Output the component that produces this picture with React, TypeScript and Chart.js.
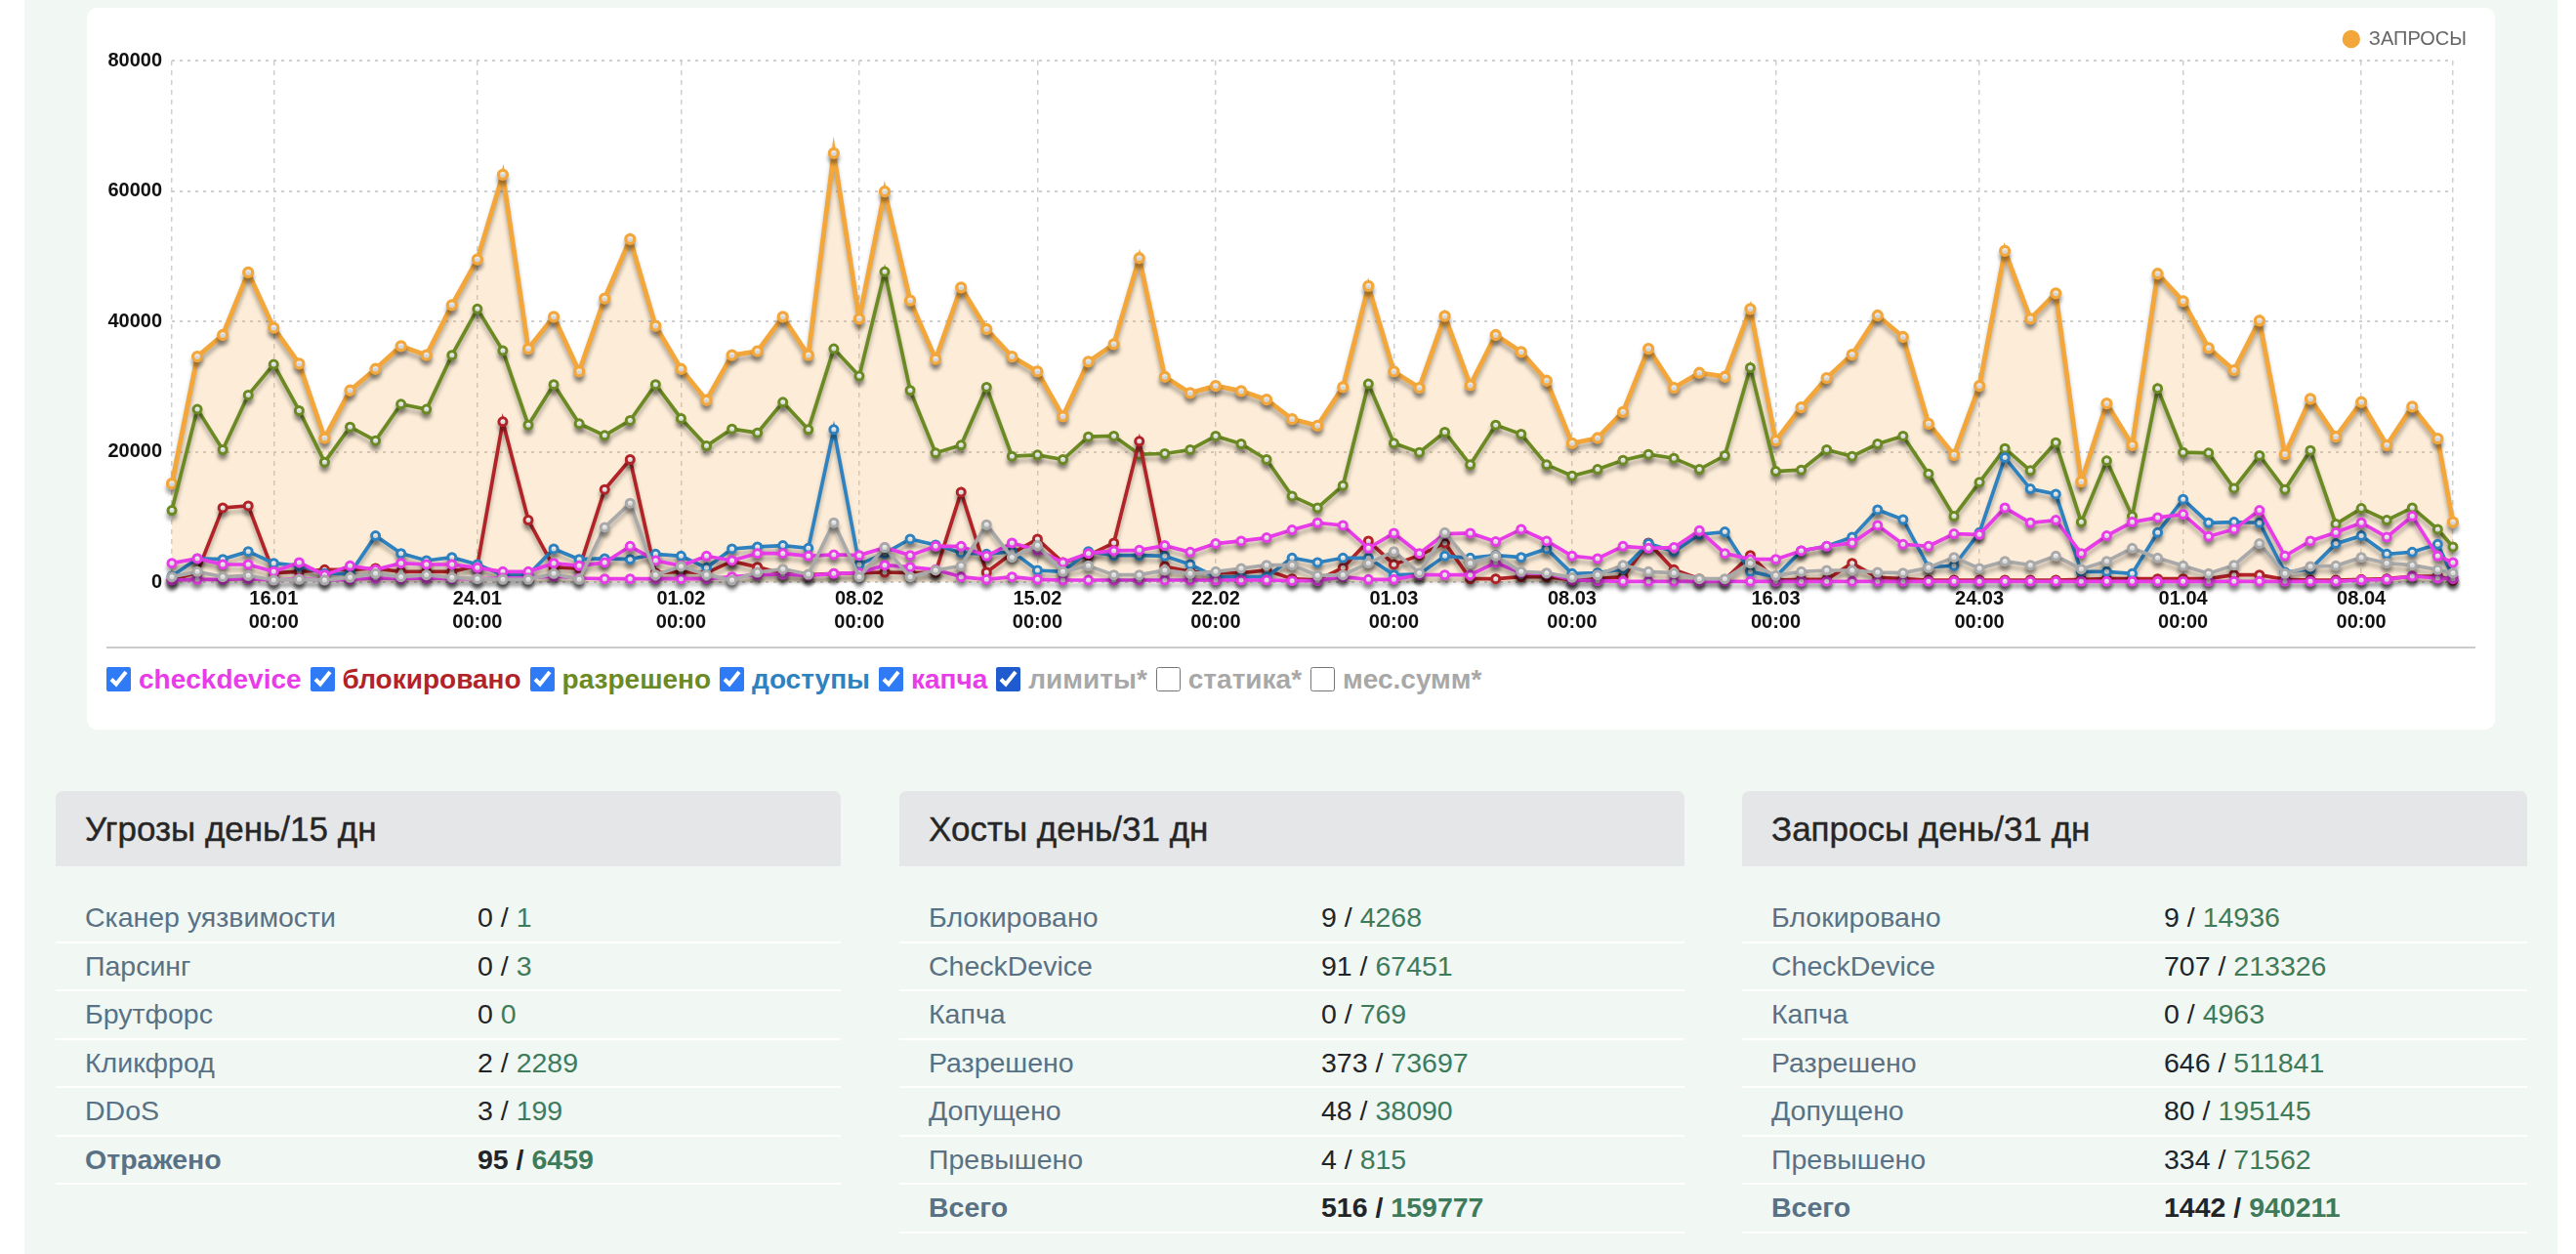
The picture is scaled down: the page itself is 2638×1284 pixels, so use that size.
import React, { useEffect, useRef } from 'react';
import { Chart, registerables } from 'chart.js';

Chart.register(...registerables);

const FONT = '"Liberation Sans", Arial, Helvetica, sans-serif';

// x positions: day offsets from 12.01 (last point is today, partial day)
const DAY_INDEX = Array.from({ length: 90 }, (_, i) => i);
const LAST_POINT_DAY = 89.6;
const X_POS = [...DAY_INDEX, LAST_POINT_DAY];

const TICK_DAYS = [0, 4, 12, 20, 27, 34, 41, 48, 55, 63, 71, 79, 86, 89.6];
const TICK_DATES = ['', '16.01', '24.01', '01.02', '08.02', '15.02', '22.02', '01.03', '08.03', '16.03', '24.03', '01.04', '08.04', ''];
const TICK_TIME = '00:00';

const Y_MAX = 80000;
const Y_STEP = 20000;

const ZAPROSY = [
  15100, 34600, 37900, 47500, 39000, 33500, 22100, 29400, 32700, 36200, 34800, 42500, 49500, 62500, 35800, 40700, 32300, 43500, 52600, 39300, 32700, 27900, 34800,
  35400, 40700, 34800, 65800, 40400, 59900, 43200, 34200, 45200, 38800, 34600, 32300, 25400, 33800, 36500, 49700, 31500, 29000, 30100, 29300, 28000, 25000, 24000,
  29900, 45400, 32300, 29800, 40800, 30200, 37900, 35300, 30900, 21300, 22100, 26100, 35800, 29800, 32100, 31500, 41900, 21700, 26800, 31300, 34900, 40900, 37600,
  24300, 19500, 30100, 50800, 40400, 44300, 15400, 27400, 21000, 47300, 43100, 35900, 32500, 40100, 19600, 28100, 22300, 27600, 21000, 26900, 22000, 9200,
];

const RAZRESHENO = [
  11000, 26500, 20300, 28700, 33400, 26300, 18400, 23800, 21700, 27300, 26500, 34800, 41900, 35500, 24100, 30300, 24300, 22500, 24800, 30300, 25100, 20900, 23500,
  22900, 27600, 23400, 35800, 31600, 47600, 29400, 19800, 21000, 29900, 19300, 19500, 18800, 22300, 22400, 19600, 19700, 20300, 22400, 21200, 18800, 13200, 11400,
  14800, 30400, 21300, 19900, 23000, 18000, 24100, 22700, 18000, 16300, 17300, 18700, 19600, 19000, 17300, 19400, 32900, 17000, 17200, 20300, 19300, 21200, 22400,
  16600, 10100, 15300, 20500, 17100, 21400, 9200, 18600, 10100, 29700, 19900, 19800, 14400, 19400, 14200, 20200, 8900, 11300, 9500, 11400, 8100, 5400,
];

const BLOKIROVANO = [
  300, 1500, 11400, 11700, 1400, 1600, 1900, 1900, 2100, 1600, 1600, 1600, 2500, 24600, 9500, 2300, 2100, 14200, 18800, 1400, 1600, 1400, 3200,
  2300, 1300, 1100, 1300, 1400, 1500, 1400, 1500, 13800, 1500, 4400, 6600, 3000, 4100, 6000, 21600, 2400, 1600, 1400, 1400, 1800, 500, 300,
  2200, 6300, 2700, 4100, 6000, 500, 500, 800, 800, 300, 500, 800, 6000, 1900, 500, 400, 4100, 300, 400, 400, 2900, 700, 500,
  300, 300, 300, 300, 300, 300, 400, 500, 500, 500, 500, 500, 1100, 1100, 400, 300, 300, 400, 500, 900, 900, 300,
];

const DOSTUPY = [
  900, 3600, 3500, 4700, 2900, 2500, 1300, 1300, 7100, 4400, 3300, 3800, 2700, 1100, 1100, 5100, 3500, 3600, 3500, 4300, 4000, 2200, 5100,
  5400, 5600, 5200, 23400, 2700, 4400, 6600, 5700, 4500, 4300, 4700, 1800, 1600, 4700, 4100, 4100, 4000, 2700, 800, 800, 800, 3700, 3000,
  3700, 3700, 1100, 1200, 4000, 3700, 4100, 3800, 5100, 1300, 1400, 2000, 5900, 4700, 7300, 7700, 1600, 800, 4800, 5500, 6900, 11100, 9600,
  2300, 2500, 7600, 19100, 14300, 13500, 1600, 1600, 1300, 7600, 12700, 9100, 9200, 9100, 1500, 2000, 5900, 7100, 4300, 4600, 5800, 800,
];

const CHECKDEVICE = [
  2900, 3600, 2700, 2700, 1600, 3000, 1100, 2500, 1900, 2900, 2700, 2700, 2200, 1600, 1600, 2900, 2500, 3000, 5500, 3300, 2500, 4000, 3300,
  4400, 4400, 4000, 4200, 4100, 5300, 4100, 5500, 5500, 4000, 6000, 4900, 3000, 4400, 4800, 4900, 5600, 4600, 5900, 6300, 6800, 8000, 9100,
  8700, 5200, 7500, 4400, 7400, 7500, 6200, 8100, 6300, 4000, 3600, 5500, 5200, 5300, 7900, 4400, 3500, 3500, 4800, 5500, 6000, 8700, 5800,
  5500, 7400, 7300, 11400, 9100, 9500, 4400, 7100, 9200, 9900, 10400, 7000, 8100, 11000, 4000, 6300, 7600, 9100, 6900, 10100, 4000, 3000,
];

const KAPCHA = [
  300, 400, 400, 500, 300, 500, 300, 400, 600, 500, 600, 500, 500, 600, 600, 900, 600, 500, 500, 500, 500, 500, 800,
  1100, 1200, 1000, 1300, 1400, 2600, 2300, 1900, 800, 400, 800, 400, 300, 300, 300, 300, 300, 300, 300, 300, 300, 200, 200,
  800, 400, 400, 1100, 1100, 1100, 3000, 1400, 1300, 300, 200, 100, 100, 100, 100, 100, 100, 100, 100, 100, 100, 100, 100,
  100, 100, 100, 100, 100, 100, 100, 100, 100, 100, 100, 100, 100, 100, 100, 100, 100, 300, 400, 900, 600, 500,
];

const LIMITY = [
  800, 1600, 800, 1000, 300, 400, 300, 700, 1300, 800, 1100, 700, 500, 400, 400, 1300, 400, 8400, 12100, 1100, 2400, 1100, 300,
  1500, 2000, 1200, 9100, 800, 5300, 800, 1800, 2500, 8800, 3800, 5600, 1600, 2500, 1100, 1100, 1800, 1300, 1600, 2100, 2600, 2600, 1000,
  1100, 2900, 4700, 1400, 7600, 2900, 4000, 1600, 1400, 700, 1100, 2600, 1600, 1400, 500, 500, 2900, 1000, 1600, 1800, 1800, 1500, 1400,
  2200, 3800, 2100, 3200, 2600, 4000, 2000, 3200, 5200, 3700, 2500, 1300, 2600, 5900, 1300, 2400, 2500, 3800, 2900, 2600, 1900, 1400,
];

const ORANGE = '#f3a73b';
const GREEN = '#6b8a23';
const RED = '#b22328';
const BLUE = '#2e82c0';
const MAGENTA = '#e83ce8';
const GRAY = '#a9a9a9';
const LEGEND_GRAY = '#a8a8a8';

const LEGEND_ITEMS = [
  { label: 'checkdevice', color: MAGENTA, checked: true },
  { label: 'блокировано', color: RED, checked: true },
  { label: 'разрешено', color: GREEN, checked: true },
  { label: 'доступы', color: BLUE, checked: true },
  { label: 'капча', color: MAGENTA, checked: true },
  { label: 'лимиты*', color: LEGEND_GRAY, checked: true, dark: true },
  { label: 'статика*', color: LEGEND_GRAY, checked: false },
  { label: 'мес.сумм*', color: LEGEND_GRAY, checked: false },
];

const THREAT_LABELS = ['Сканер уязвимости', 'Парсинг', 'Брутфорс', 'Кликфрод', 'DDoS', 'Отражено'];
const THREAT_DAY = ['0', '0', '0', '2', '3', '95'];
const THREAT_SEP = [' / ', ' / ', ' ', ' / ', ' / ', ' / '];
const THREAT_TOTAL = ['1', '3', '0', '2289', '199', '6459'];

const HOST_LABELS = ['Блокировано', 'CheckDevice', 'Капча', 'Разрешено', 'Допущено', 'Превышено', 'Всего'];
const HOST_DAY = ['9', '91', '0', '373', '48', '4', '516'];
const HOST_TOTAL = ['4268', '67451', '769', '73697', '38090', '815', '159777'];

const REQ_LABELS = ['Блокировано', 'CheckDevice', 'Капча', 'Разрешено', 'Допущено', 'Превышено', 'Всего'];
const REQ_DAY = ['9', '707', '0', '646', '80', '334', '1442'];
const REQ_TOTAL = ['14936', '213326', '4963', '511841', '195145', '71562', '940211'];

const shadowPlugin = {
  id: 'lineShadow',
  beforeDatasetDraw(chart: any) {
    const ctx = chart.ctx;
    ctx.save();
    ctx.shadowColor = 'rgba(0,0,0,0.3)';
    ctx.shadowBlur = 4;
    ctx.shadowOffsetX = 0;
    ctx.shadowOffsetY = 5;
  },
  afterDatasetDraw(chart: any) {
    chart.ctx.restore();
  },
};

const legendHeightPlugin = {
  id: 'legendHeight',
  afterInit(chart: any) {
    const lg = chart.legend;
    if (lg && !lg.__patched) {
      const f = lg.fit.bind(lg);
      lg.fit = () => {
        f();
        lg.height = 54;
      };
      lg.__patched = true;
    }
  },
};

function toPoints(values: number[]) {
  return values.map((v, i) => ({ x: X_POS[i], y: v }));
}

function makeSet(label: string, values: number[], color: string, order: number, extra: any = {}) {
  return {
    label,
    data: toPoints(values),
    borderColor: color,
    backgroundColor: color,
    pointBackgroundColor: '#ffffff',
    pointBorderColor: color,
    pointRadius: 4,
    pointBorderWidth: 3,
    borderWidth: 3.7,
    tension: 0,
    fill: false,
    order,
    clip: false,
    ...extra,
  };
}

function ChartCanvas() {
  const ref = useRef<HTMLCanvasElement | null>(null);
  useEffect(() => {
    if (!ref.current) return;
    const tickFont = { family: FONT, size: 20, weight: 'bold' as const, lineHeight: 1.2 };
    const chart = new Chart(ref.current, {
      type: 'line',
      data: {
        datasets: [
          makeSet('ЗАПРОСЫ', ZAPROSY, ORANGE, 10, {
            fill: 'origin',
            backgroundColor: 'rgba(243,167,59,0.2)',
            borderWidth: 4.8,
            pointRadius: 4.5,
            pointBorderWidth: 3.3,
          }),
          makeSet('разрешено', RAZRESHENO, GREEN, 7),
          makeSet('блокировано', BLOKIROVANO, RED, 6),
          makeSet('доступы', DOSTUPY, BLUE, 5),
          makeSet('checkdevice', CHECKDEVICE, MAGENTA, 4),
          makeSet('капча', KAPCHA, MAGENTA, 3),
          makeSet('лимиты', LIMITY, GRAY, 2),
        ],
      },
      options: {
        responsive: false,
        animation: false,
        events: [],
        layout: { padding: { left: 0, right: 7, top: 0, bottom: 0 } },
        plugins: {
          tooltip: { enabled: false },
          legend: {
            display: true,
            position: 'top',
            align: 'end',
            labels: {
              usePointStyle: true,
              pointStyle: 'circle',
              boxWidth: 16,
              boxHeight: 13,
              padding: 22,
              color: '#666',
              font: { family: FONT, size: 20 },
              generateLabels: (c: any) =>
                (Chart.defaults.plugins.legend.labels.generateLabels as any)(c)
                  .filter((l: any) => l.datasetIndex === 0)
                  .map((l: any) => ({ ...l, fillStyle: ORANGE, strokeStyle: ORANGE, lineWidth: 0, pointStyle: 'circle' })),
            },
          },
        },
        scales: {
          x: {
            type: 'linear',
            min: 0,
            max: LAST_POINT_DAY,
            afterBuildTicks: (scale: any) => {
              scale.ticks = TICK_DAYS.map((v) => ({ value: v }));
            },
            afterFit: (scale: any) => {
              scale.height = 62;
            },
            ticks: {
              autoSkip: false,
              maxRotation: 0,
              minRotation: 0,
              padding: 5,
              color: '#111',
              font: tickFont,
              callback: (_v: any, i: number) => (TICK_DATES[i] ? [TICK_DATES[i], TICK_TIME] : ''),
            },
            grid: { color: '#cfcfcf', lineWidth: 1.5, drawTicks: false },
            border: { display: false, dash: [5, 5] },
          },
          y: {
            min: 0,
            max: Y_MAX,
            afterFit: (scale: any) => {
              scale.width = 87;
            },
            ticks: { stepSize: Y_STEP, padding: 10, color: '#111', font: tickFont, callback: (v: any) => String(v) },
            grid: { color: '#cfcfcf', lineWidth: 2, drawTicks: false },
            border: { display: false, dash: [3, 5] },
          },
          yR: {
            position: 'right',
            display: true,
            afterFit: (scale: any) => {
              scale.width = 36;
            },
            ticks: { display: false },
            grid: { display: false, drawTicks: false },
            border: { display: false },
          },
        },
      } as any,
      plugins: [shadowPlugin, legendHeightPlugin],
    });
    return () => chart.destroy();
  }, []);
  return <canvas ref={ref} width={2466} height={650} style={{ display: 'block', width: 2466, height: 650 }} />;
}

const LABEL_COLOR = '#597184';
const DARK = '#212529';
const GREEN_NUM = '#3e7b5b';

function Panel({ title, left, labels, day, sep, total }: any) {
  const last = labels.length - 1;
  return (
    <div style={{ position: 'absolute', left, top: 810, width: 804 }}>
      <div
        style={{
          height: 77,
          background: '#e5e6e8',
          borderRadius: '7px 7px 0 0',
          boxSizing: 'border-box',
          paddingLeft: 30,
          lineHeight: '77px',
          fontSize: 35,
          color: '#262626',
          WebkitTextStroke: '0.4px #262626',
        }}
      >
        {title}
      </div>
      <div style={{ height: 29 }} />
      {labels.map((lab: string, i: number) => (
        <div
          key={i}
          style={{
            position: 'relative',
            height: 49.5,
            boxSizing: 'border-box',
            borderBottom: '2.5px solid #ffffff',
            fontSize: 28.5,
            lineHeight: '47px',
            fontWeight: i === last ? 'bold' : 'normal',
          }}
        >
          <span style={{ position: 'absolute', left: 30, color: LABEL_COLOR }}>{lab}</span>
          <span style={{ position: 'absolute', left: 432, color: DARK, whiteSpace: 'pre' }}>
            {day[i]}
            {sep ? sep[i] : ' / '}
            <span style={{ color: GREEN_NUM }}>{total[i]}</span>
          </span>
        </div>
      ))}
    </div>
  );
}

export default function App() {
  return (
    <div style={{ position: 'relative', width: 2638, height: 1284, overflow: 'hidden', fontFamily: FONT, background: '#ffffff' }}>
      <style>{'html,body{margin:0;padding:0;overflow:hidden;}'}</style>
      <div style={{ position: 'absolute', left: 25, top: 0, width: 2594, height: 1284, background: '#f1f7f3' }} />
      <div style={{ position: 'absolute', left: 89, top: 8, width: 2466, height: 739, background: '#ffffff', borderRadius: 10 }}>
        <div style={{ position: 'absolute', left: 0, top: 0 }}>
          <ChartCanvas />
        </div>
        <div style={{ position: 'absolute', left: 20, top: 654, width: 2426, height: 2, background: '#cccccc' }} />
        <div style={{ position: 'absolute', left: 20, top: 675, height: 25, display: 'flex', alignItems: 'center' }}>
          {LEGEND_ITEMS.map((it, i) => (
            <label key={i} style={{ display: 'inline-flex', alignItems: 'center', marginRight: 9 }}>
              <input
                type="checkbox"
                defaultChecked={it.checked}
                style={{ width: 25, height: 25, margin: 0, marginRight: 8, accentColor: it.dark ? '#1f5bcf' : '#2f7bf5' }}
              />
              <span style={{ fontSize: 28, fontWeight: 'bold', color: it.color }}>{it.label}</span>
            </label>
          ))}
        </div>
      </div>
      <Panel title="Угрозы день/15 дн" left={57} labels={THREAT_LABELS} day={THREAT_DAY} sep={THREAT_SEP} total={THREAT_TOTAL} />
      <Panel title="Хосты день/31 дн" left={921} labels={HOST_LABELS} day={HOST_DAY} total={HOST_TOTAL} />
      <Panel title="Запросы день/31 дн" left={1784} labels={REQ_LABELS} day={REQ_DAY} total={REQ_TOTAL} />
    </div>
  );
}
